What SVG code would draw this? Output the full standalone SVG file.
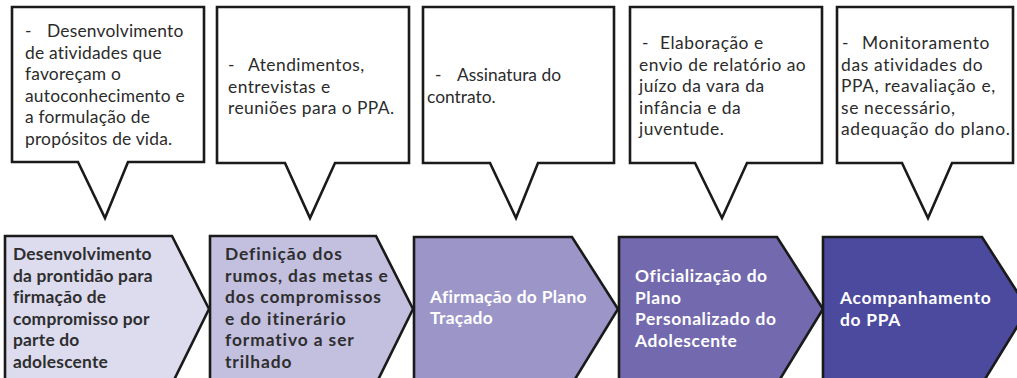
<svg xmlns="http://www.w3.org/2000/svg" width="1017" height="378" viewBox="0 0 1017 378">
<style>
.call{fill:#fff;stroke:#1a1a1a;stroke-width:2.6;stroke-linejoin:miter}
.ct{font-family:Lato,"Open Sans",sans-serif;font-size:17.4px;fill:#2b2b2b}
.arr{stroke:#1a1a1a;stroke-width:2.6;stroke-linejoin:miter}
.at{font-family:Lato,"Open Sans",sans-serif;font-size:17.4px;font-weight:bold}
.dk{fill:#2e2e2e}
.wt{fill:#fff}
</style>
<rect width="1017" height="378" fill="#fff"/>
<g id="callouts">
<g id="callout1" style="letter-spacing:0.2px">
<path class="call" d="M12,7 H204 V162 H128 L105,218 L78,162 H12 Z"/>
<text class="ct" x="25" y="37">-<tspan x="47">Desenvolvimento</tspan></text>
<text class="ct" x="25" y="58.5">de atividades que</text>
<text class="ct" x="25" y="80">favoreçam o</text>
<text class="ct" x="25" y="101.5">autoconhecimento e</text>
<text class="ct" x="25" y="123">a formulação de</text>
<text class="ct" x="25" y="144.5">propósitos de vida.</text>
</g>
<g id="callout2" style="letter-spacing:0.45px">
<path class="call" d="M217,7 H409 V163 H335 L310,218 L285,163 H217 Z"/>
<text class="ct" x="228" y="71">-<tspan x="248">Atendimentos,</tspan></text>
<text class="ct" x="228" y="92.5">entrevistas e</text>
<text class="ct" x="228" y="114">reuniões para o PPA.</text>
</g>
<g id="callout3">
<path class="call" d="M423,7 H614 V163 H538 L516,218 L490,163 H423 Z"/>
<text class="ct" x="435" y="81">-<tspan x="457">Assinatura do</tspan></text>
<text class="ct" x="427" y="102.5">contrato.</text>
</g>
<g id="callout4" style="letter-spacing:0.5px">
<path class="call" d="M630,7 H822 V163 H747 L722,218 L695,163 H630 Z"/>
<text class="ct" x="642" y="49">-<tspan x="660">Elaboração e</tspan></text>
<text class="ct" x="639" y="70.5">envio de relatório ao</text>
<text class="ct" x="639" y="92">juízo da vara da</text>
<text class="ct" x="639" y="113.5">infância e da</text>
<text class="ct" x="639" y="135">juventude.</text>
</g>
<g id="callout5" style="letter-spacing:0.65px">
<path class="call" d="M837,7 H1013 V163 H952 L928,218 L902,163 H837 Z"/>
<text class="ct" x="842" y="49">-<tspan x="862">Monitoramento</tspan></text>
<text class="ct" x="841" y="70.5">das atividades do</text>
<text class="ct" x="841" y="92">PPA, reavaliação e,</text>
<text class="ct" x="841" y="113.5">se necessário,</text>
<text class="ct" x="841" y="135">adequação do plano.</text>
</g>
</g>
<g id="steps">
<g id="step1" style="letter-spacing:0.2px">
<path class="arr" fill="#dddbee" d="M5,236 H172 L209,309 L172,384 H5 Z"/>
<text class="at dk" x="13" y="260">Desenvolvimento</text>
<text class="at dk" x="13" y="281.5">da prontidão para</text>
<text class="at dk" x="13" y="303">firmação de</text>
<text class="at dk" x="13" y="324.5">compromisso por</text>
<text class="at dk" x="13" y="346">parte do</text>
<text class="at dk" x="13" y="367.5">adolescente</text>
</g>
<g id="step2" style="letter-spacing:0.9px">
<path class="arr" fill="#c3bfdf" d="M210,236 H376 L413,309 L376,384 H210 Z"/>
<text class="at dk" x="225" y="260">Definição dos</text>
<text class="at dk" x="225" y="281.5">rumos, das metas e</text>
<text class="at dk" x="225" y="303">dos compromissos</text>
<text class="at dk" x="225" y="324.5">e do itinerário</text>
<text class="at dk" x="225" y="346">formativo a ser</text>
<text class="at dk" x="225" y="367.5">trilhado</text>
</g>
<g id="step3" style="letter-spacing:0.3px">
<path class="arr" fill="#9b95c8" d="M414,237 H572 L618,309 L572,384 H414 Z"/>
<text class="at wt" x="430" y="303">Afirmação do Plano</text>
<text class="at wt" x="430" y="324">Traçado</text>
</g>
<g id="step4" style="letter-spacing:0.6px">
<path class="arr" fill="#7369ae" d="M619,237 H777 L823,309 L777,384 H619 Z"/>
<text class="at wt" x="635" y="282">Oficialização do</text>
<text class="at wt" x="635" y="303.5">Plano</text>
<text class="at wt" x="635" y="325">Personalizado do</text>
<text class="at wt" x="635" y="346.5">Adolescente</text>
</g>
<g id="step5" style="letter-spacing:0.7px">
<path class="arr" fill="#4c4a9e" d="M823,237 H982 L1028,309 L982,384 H823 Z"/>
<text class="at wt" x="840" y="304">Acompanhamento</text>
<text class="at wt" x="840" y="325.5">do PPA</text>
</g>
</g>
</svg>
